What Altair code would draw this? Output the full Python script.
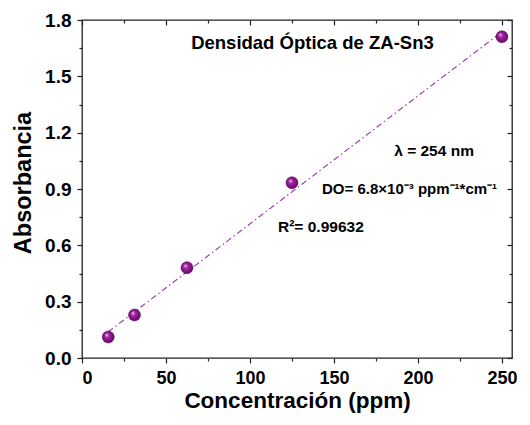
import altair as alt
import pandas as pd

# data
conc = [15.625, 31.25, 62.5, 125, 250]
absb = [0.112, 0.229, 0.481, 0.933, 1.711]

x_major = [0, 50, 100, 150, 200, 250]
x_minor = [25, 75, 125, 175, 225]
y_major = [0.0, 0.3, 0.6, 0.9, 1.2, 1.5, 1.8]
y_minor = [0.15, 0.45, 0.75, 1.05, 1.35, 1.65]

ann_text = ["Densidad Óptica de ZA-Sn3", "λ = 254 nm", "DO= 6.8×10⁻³ ppm⁻¹*cm⁻¹", "R²= 0.99632"]
ann_x = [137.2, 209.6, 142.9, 116.7]
ann_y = [1.675, 1.10, 0.90, 0.70]
ann_size = [18.5, 15.5, 15, 15.5]
ann_align = ["center", "center", "left", "left"]

df = pd.DataFrame({"c": conc, "a": absb})
ann = pd.DataFrame({"t": ann_text, "x": ann_x, "y": ann_y, "s": ann_size, "al": ann_align})

FONT = "Liberation Sans"
xs = alt.Scale(domain=[0, 256], nice=False, zero=False)
ys = alt.Scale(domain=[0, 1.8], nice=False, zero=False)

base = alt.Chart(df)

def ax(orient, values, size, offset=0):
    return alt.Axis(orient=orient, values=values, tickSize=size, labels=False, domain=False,
                    grid=False, tickColor="#222", tickWidth=1.2, offset=offset, title=None)

line = base.transform_regression("c", "a").mark_line(
    color="#9b30b0", strokeWidth=1.1, strokeDash=[6, 3, 1.5, 3]
).encode(
    x=alt.X("c:Q", scale=xs, axis=alt.Axis(orient="bottom", values=x_major, tickSize=5, labels=True,
            domain=False, grid=False, tickColor="#222", tickWidth=1.2, title="Concentración (ppm)",
            labelPadding=6, titlePadding=2, format="d", labelFontSize=18, titleFontSize=22.5)),
    y=alt.Y("a:Q", scale=ys, axis=alt.Axis(orient="left", values=y_major, tickSize=5, labels=True,
            domain=False, grid=False, tickColor="#222", tickWidth=1.2, title="Absorbancia",
            labelPadding=6, titlePadding=9, titleY=162.5, format=".1f",
            labelFontSize=19, titleFontSize=23.5)),
)

grad = alt.RadialGradient(
    gradient="radial",
    stops=[alt.GradientStop(offset=0, color="#f8e8f8"),
           alt.GradientStop(offset=0.3, color="#a82aa8"),
           alt.GradientStop(offset=1, color="#5e0060")],
    x1=0.35, y1=0.32, r1=0, x2=0.5, y2=0.5, r2=0.55,
)

points = base.mark_point(filled=True, shape="circle", size=145, fill=grad, opacity=1,
                         stroke="#5e0060", strokeWidth=0.5).encode(
    x=alt.X("c:Q", scale=xs, axis=ax("bottom", x_minor, 3)),
    y=alt.Y("a:Q", scale=ys, axis=ax("left", y_minor, 3)),
)

top_major = base.mark_point(opacity=0).encode(
    x=alt.X("c:Q", scale=xs, axis=ax("top", x_major, 5, offset=-5)),
    y=alt.Y("a:Q", scale=ys, axis=ax("right", y_major, 5, offset=-5)),
)
top_minor = base.mark_point(opacity=0).encode(
    x=alt.X("c:Q", scale=xs, axis=ax("top", x_minor, 3, offset=-3)),
    y=alt.Y("a:Q", scale=ys, axis=ax("right", y_minor, 3, offset=-3)),
)

def text_layer(al):
    return alt.Chart(ann).transform_filter(alt.datum.al == al).mark_text(
        font=FONT, fontWeight="bold", color="black", baseline="middle", align=al
    ).encode(
        x=alt.X("x:Q", scale=xs, axis=None),
        y=alt.Y("y:Q", scale=ys, axis=None),
        text="t:N",
        size=alt.Size("s:Q", scale=None, legend=None),
    )

chart = alt.layer(top_major, top_minor, line, points, text_layer("center"), text_layer("left")).resolve_axis(
    x="independent", y="independent"
).properties(
    width=430, height=338,
    autosize=alt.AutoSizeParams(type="none"),
    padding={"left": 74, "top": 12, "right": 5, "bottom": 60},
).configure_view(stroke="#222", strokeWidth=1.3).configure_axis(
    labelFont=FONT, labelFontWeight="bold", labelColor="black",
    titleFont=FONT, titleFontWeight="bold", titleColor="black",
)

chart.save("out.html", embed_options={"renderer": "svg", "actions": False})
